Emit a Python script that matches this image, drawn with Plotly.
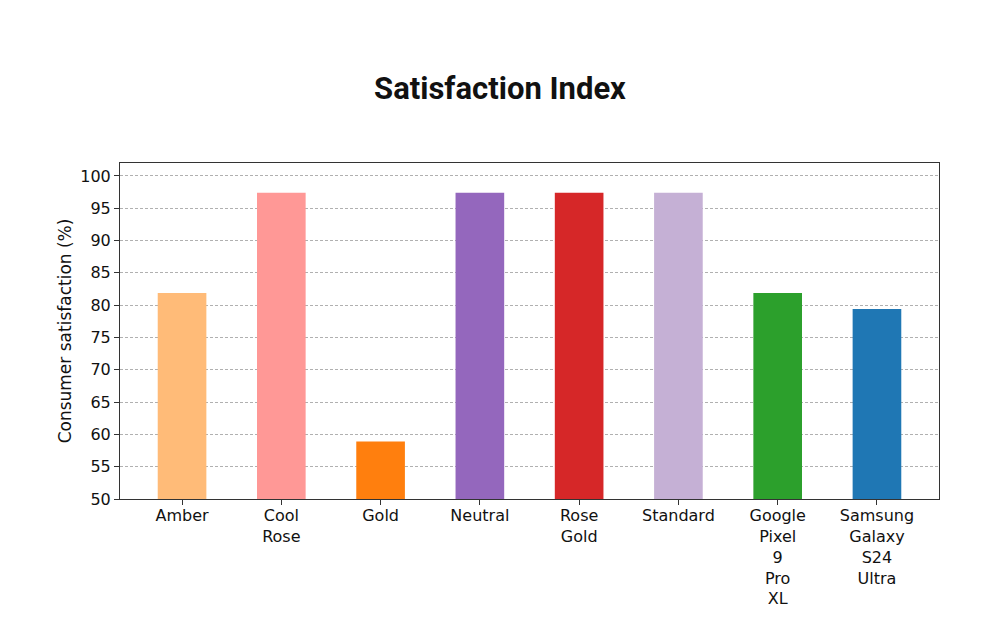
import plotly.graph_objects as go

categories = ["Amber", "Cool<br>Rose", "Gold", "Neutral", "Rose<br>Gold", "Standard",
              "Google<br>Pixel<br>9<br>Pro<br>XL", "Samsung<br>Galaxy<br>S24<br>Ultra"]
values = [81.9, 97.4, 58.9, 97.4, 97.4, 97.4, 81.9, 79.4]
colors = ["#ffbb78", "#ff9896", "#ff7f0e", "#9467bd", "#d62728", "#c5b0d5", "#2ca02c", "#1f77b4"]
y_ticks = list(range(50, 101, 5))

fig = go.Figure(go.Bar(
    x=list(range(len(categories))), y=values, marker=dict(color=colors, line=dict(width=0)),
    width=0.49,
))

fig.update_layout(
    width=984, height=606,
    paper_bgcolor="white", plot_bgcolor="white",
    margin=dict(l=112, r=53, t=155, b=115),
    title=dict(text="<b>Satisfaction Index</b>", x=0.5, xanchor="center", y=0.868, yanchor="middle",
               font=dict(family="Roboto", size=31, color="#111111")),
    showlegend=False,
    font=dict(family="DejaVu Sans", size=16, color="#111111"),
)
fig.update_xaxes(
    range=[-0.625, 7.625], tickmode="array", tickvals=list(range(len(categories))), ticktext=categories,
    showline=True, linecolor="#333333", linewidth=1, mirror=True,
    ticks="outside", ticklen=5, tickcolor="#333333", showgrid=False, automargin=False,
    ticklabelstandoff=-3,
    tickfont=dict(family="DejaVu Sans", size=16, color="#111111"),
)
fig.update_yaxes(
    range=[50, 102], tickmode="array", tickvals=y_ticks,
    showline=True, linecolor="#333333", linewidth=1, mirror=True,
    ticks="outside", ticklen=5, tickcolor="#333333",
    showgrid=True, gridcolor="#b0b0b0", griddash="3px,2px", gridwidth=1,
    zeroline=False, automargin=True,
    title=dict(text="Consumer satisfaction (%)", font=dict(family="DejaVu Sans", size=17, color="#111111"), standoff=4),
    tickfont=dict(family="DejaVu Sans", size=16, color="#111111"),
)

fig.write_html("out.html")
